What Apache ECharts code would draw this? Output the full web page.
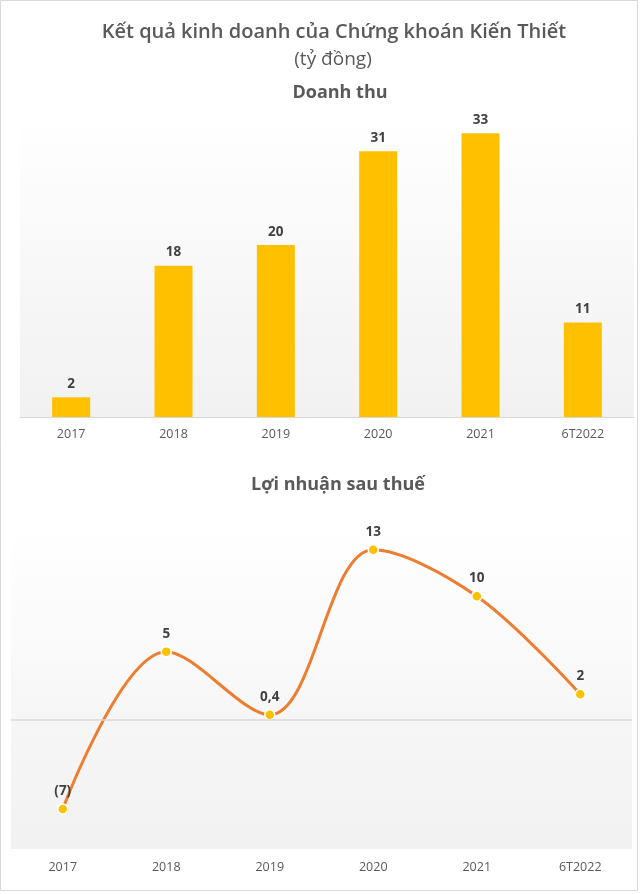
<!DOCTYPE html>
<html>
<head>
<meta charset="utf-8">
<script src="https://cdn.jsdelivr.net/npm/echarts@6/dist/echarts.min.js"></script>
<style>
html,body{margin:0;padding:0;background:#fff;}
#chart{width:640px;height:894px;}
</style>
</head>
<body>
<div id="chart"></div>
<script>
// ---- data ----
var categories = ['2017', '2018', '2019', '2020', '2021', '6T2022'];
var revenue = [2.3, 17.6, 20, 30.9, 33, 11];
var revenueLabels = ['2', '18', '20', '31', '33', '11'];
var profit = [-6.9, 5.3, 0.4, 13.2, 9.6, 2.0];
var profitLabels = ['(7)', '5', '0,4', '13', '10', '2'];
var mainTitle = 'Kết quả kinh doanh của Chứng khoán Kiến Thiết';
var unitText = '(tỷ đồng)';
var revenueTitle = 'Doanh thu';
var profitTitle = 'Lợi nhuận sau thuế';

var FONT = '"Open Sans", "Noto Sans", sans-serif';
var plotGrad = {
  type: 'linear', x: 0, y: 0, x2: 0, y2: 1,
  colorStops: [{offset: 0, color: '#ffffff'}, {offset: 1, color: '#f1f1f1'}]
};

var chart = echarts.init(document.getElementById('chart'), null, {renderer: 'canvas'});
var option = {
  backgroundColor: '#ffffff',
  animation: false,
  graphic: [
    {type: 'rect', shape: {x: 0.5, y: 0.5, width: 637, height: 890}, style: {fill: 'none', stroke: '#d9d9d9', lineWidth: 1}, z: 100},
    {type: 'text', x: 334, y: 32, style: {text: mainTitle, font: '600 20px ' + FONT, fill: '#595959', align: 'center', verticalAlign: 'middle'}},
    {type: 'text', x: 333, y: 60, style: {text: unitText, font: '400 19px ' + FONT, fill: '#595959', align: 'center', verticalAlign: 'middle'}},
    {type: 'text', x: 340, y: 93, style: {text: revenueTitle, font: '700 18px ' + FONT, fill: '#595959', align: 'center', verticalAlign: 'middle'}},
    {type: 'text', x: 338, y: 485, style: {text: profitTitle, font: '700 18px ' + FONT, fill: '#595959', align: 'center', verticalAlign: 'middle'}}
  ],
  grid: [
    {left: 20, right: 6, top: 116, bottom: 477, show: true, backgroundColor: plotGrad, borderWidth: 0},
    {left: 11, right: 8, top: 526.5, bottom: 45, show: true, backgroundColor: plotGrad, borderWidth: 0}
  ],
  xAxis: [
    {type: 'category', gridIndex: 0, data: categories,
     axisLine: {show: true, lineStyle: {color: '#d9d9d9', width: 1}},
     axisTick: {show: false},
     axisLabel: {color: '#595959', fontSize: 12.5, fontFamily: FONT, margin: 11}},
    {type: 'category', gridIndex: 1, data: categories,
     axisLine: {show: false, onZero: false},
     axisTick: {show: false},
     axisLabel: {color: '#595959', fontSize: 12.5, fontFamily: FONT, margin: 12}}
  ],
  yAxis: [
    {type: 'value', gridIndex: 0, min: 0, max: 35, show: false, splitLine: {show: false}},
    {type: 'value', gridIndex: 1, min: -10, max: 15, show: false, splitLine: {show: false}}
  ],
  series: [
    {type: 'bar', xAxisIndex: 0, yAxisIndex: 0, data: revenue, barWidth: 38,
     itemStyle: {color: '#FFC000'},
     label: {show: true, position: 'top', distance: 6, color: '#404040', fontWeight: 'bold', fontSize: 13.5, fontFamily: FONT,
       formatter: function (p) { return revenueLabels[p.dataIndex]; }}},
    {type: 'line', xAxisIndex: 1, yAxisIndex: 1, data: profit, smooth: 0.35,
     lineStyle: {color: '#ED7D31', width: 3},
     symbol: 'circle', symbolSize: 10,
     itemStyle: {color: '#FFC000', borderColor: '#ffffff', borderWidth: 1.5},
     label: {show: true, position: 'top', distance: 5, color: '#404040', fontWeight: 'bold', fontSize: 13.5, fontFamily: FONT,
       formatter: function (p) { return profitLabels[p.dataIndex]; }},
     markLine: {silent: true, symbol: 'none', label: {show: false},
       lineStyle: {color: '#d9d9d9', width: 1.5, type: 'solid'},
       data: [{yAxis: 0}]},
     z: 3}
  ]
};
chart.setOption(option);
</script>
</body>
</html>
